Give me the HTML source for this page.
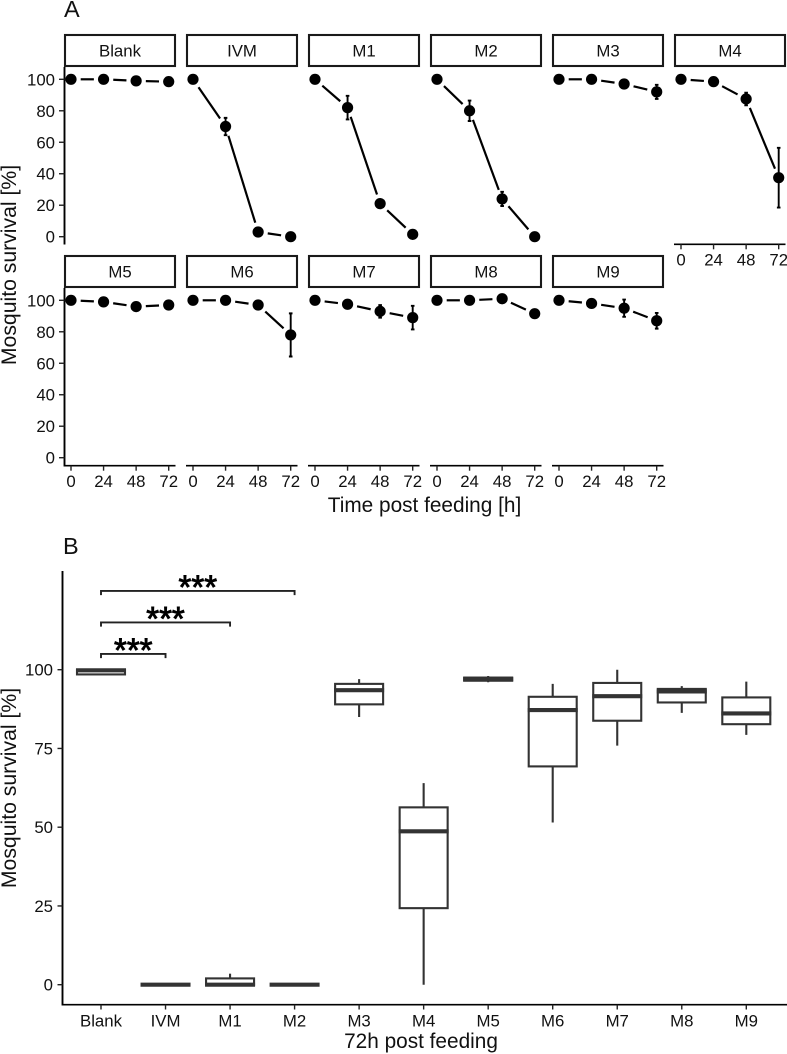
<!DOCTYPE html>
<html lang="en">
<head>
<meta charset="utf-8">
<title>Mosquito survival</title>
<style>
html,body{margin:0;padding:0;background:#fff;}
svg{display:block;font-family:"Liberation Sans",Arial,sans-serif;}
</style>
</head>
<body>
<svg id="chart" width="787" height="1054" viewBox="0 0 787 1054" xmlns="http://www.w3.org/2000/svg">
<rect width="787" height="1054" fill="#fff"/>
<text x="64" y="17" font-size="23.5" fill="#111">A</text>
<text x="63" y="554" font-size="23.5" fill="#111">B</text>
<text transform="translate(16,265) rotate(-90)" text-anchor="middle" font-size="21.2" fill="#111">Mosquito survival [%]</text>
<text x="424.5" y="512" text-anchor="middle" font-size="20.8" fill="#111">Time post feeding [h]</text>
<text transform="translate(16,788) rotate(-90)" text-anchor="middle" font-size="21.2" fill="#111">Mosquito survival [%]</text>
<text x="421" y="1048" text-anchor="middle" font-size="20.8" fill="#111">72h post feeding</text>
<g id="panel-a"></g>
<g id="panel-b"></g>
</svg>
<script>
// Panel A data
const facetNames = ["Blank","IVM","M1","M2","M3","M4","M5","M6","M7","M8","M9"];
const timePoints = [0,24,48,72];
const timeTickLabels = ["0","24","48","72"];
const survivalTicks = [0,20,40,60,80,100];
const survivalBlank = [100,100,99,98.5];
const survivalIVM = [100,70,3,0];
const survivalM1 = [100,82,21,1.5];
const survivalM2 = [100,80,24,0];
const survivalM3 = [100,100,97,92];
const survivalM4 = [100,98.5,87.5,37.5];
const survivalM5 = [100,99,96,97];
const survivalM6 = [100,100,97,78];
const survivalM7 = [100,97.5,93,89];
const survivalM8 = [100,100,101,91.5];
const survivalM9 = [100,98,95,87];
const errorBlank = [0,0.5,1,1];
const errorIVM = [0,5.5,0.5,0];
const errorM1 = [0,7.5,1,1];
const errorM2 = [0,6.5,4.5,0];
const errorM3 = [0,0.5,2.5,4.5];
const errorM4 = [0,0.5,4,19];
const errorM5 = [0,0.5,1,1];
const errorM6 = [0,0.5,1,13.7];
const errorM7 = [0,0.5,4,7.5];
const errorM8 = [0,0.5,1,1];
const errorM9 = [0,0.5,5.5,5];
const facetSurvival = [survivalBlank,survivalIVM,survivalM1,survivalM2,survivalM3,survivalM4,survivalM5,survivalM6,survivalM7,survivalM8,survivalM9];
const facetErrors = [errorBlank,errorIVM,errorM1,errorM2,errorM3,errorM4,errorM5,errorM6,errorM7,errorM8,errorM9];

// Panel B data
const boxGroups = ["Blank","IVM","M1","M2","M3","M4","M5","M6","M7","M8","M9"];
const boxTicks = [0,25,50,75,100];
const boxWhiskerLow = [98.5,0,0,0,85,0,96,51.5,75.9,86.3,79.3];
const boxQ1 = [98.5,0,0,0,89,24.3,96.5,69.3,83.8,89.6,82.7];
const boxMedian = [99.8,0,0,0,93.5,48.7,97,87.2,91.6,93.1,86.1];
const boxQ3 = [100,0,2,0,95.5,56.3,97.5,91.4,95.8,93.9,91.2];
const boxWhiskerHigh = [100,0,3.5,0,97,64,98,95.5,100,94.8,96.2];
const bracketStartGroup = ["Blank","Blank","Blank"];
const bracketEndGroup = ["IVM","M1","M2"];
const bracketValue = [105,115,125];
const bracketLabels = ["***","***","***"];

const NS = "http://www.w3.org/2000/svg";
const panelA = document.getElementById("panel-a");
const panelB = document.getElementById("panel-b");

function node(parent, tag, attrs, text){
  const el = document.createElementNS(NS, tag);
  for (const k in attrs) el.setAttribute(k, attrs[k]);
  if (text !== undefined) el.textContent = text;
  parent.appendChild(el);
  return el;
}

// Panel A layout
function facetLeft(i){ const col = i < 6 ? i : i - 6; return 64.5 + col * 122; }
function facetRow(i){ return i < 6 ? 0 : 1; }
function timeX(t, i){ return facetLeft(i) + 6.5 + (t / 72) * 97.7; }
function survivalY(v, row){
  const y100 = row === 0 ? 79.3 : 300.3;
  return y100 + (100 - v) * 1.574;
}

facetNames.forEach(function(name, i){
  const row = facetRow(i);
  const left = facetLeft(i);
  const stripTop = row === 0 ? 35 : 256;
  const g = node(panelA, "g", {});
  
  

  const strip = node(g, "rect", {x:left+0.5, y:stripTop, width:110, height:31, fill:"#fff", stroke:"#1a1a1a", "stroke-width":2.1});
  
  
  const stripLabel = node(g, "text", {x:left+55.5, y:stripTop+21.6, "text-anchor":"middle", "font-size":16.8, fill:"#111"}, name);
  
  

  // y axis on first column
  if (i === 0 || i === 6) {
    const top = row === 0 ? 67 : 288;
    const bottom = row === 0 ? 244.5 : 466.5;
    const yAxis = node(g, "line", {x1:left, x2:left, y1:top, y2:bottom, stroke:"#000", "stroke-width":1.9});
    
    
    survivalTicks.forEach(function(t){
      const y = survivalY(t, row);
      const tick = node(g, "line", {x1:left-5.5, x2:left, y1:y, y2:y, stroke:"#222", "stroke-width":1.4});
      
      
      const lab = node(g, "text", {x:left-9.5, y:y+6, "text-anchor":"end", "font-size":16.8, fill:"#111"}, String(t));
      
      
    });
  }

  // x axis on bottom row and on M4
  if (row === 1 || name === "M4") {
    const axisY = row === 1 ? 465.7 : 244.3;
    const xAxis = node(g, "line", {x1:left-0.5, x2:left+111, y1:axisY, y2:axisY, stroke:"#000", "stroke-width":1.6});
    
    
    timePoints.forEach(function(t, k){
      const x = timeX(t, i);
      const tick = node(g, "line", {x1:x, x2:x, y1:axisY, y2:axisY+5, stroke:"#222", "stroke-width":1.4});
      
      
      const lab = node(g, "text", {x:x, y:axisY+21.3, "text-anchor":"middle", "font-size":16.8, fill:"#111"}, timeTickLabels[k]);
      
      
    });
  }

  const values = facetSurvival[i];
  const errors = facetErrors[i];
  const gap = 9.7;

  // connecting segments with a gap around points
  for (let k = 0; k < values.length - 1; k++) {
    const x0 = timeX(timePoints[k], i), y0 = survivalY(values[k], row);
    const x1 = timeX(timePoints[k+1], i), y1 = survivalY(values[k+1], row);
    const len = Math.hypot(x1 - x0, y1 - y0);
    const ux = (x1 - x0) / len, uy = (y1 - y0) / len;
    const seg = node(g, "line", {x1:x0+ux*gap, y1:y0+uy*gap, x2:x1-ux*gap, y2:y1-uy*gap, stroke:"#000", "stroke-width":2.2});
    
    
  }

  values.forEach(function(v, k){
    const x = timeX(timePoints[k], i);
    const err = errors[k];
    if (err > 0) {
      const yHi = survivalY(v + err, row), yLo = survivalY(v - err, row);
      const bar = node(g, "path", {d:"M"+(x-1.8)+" "+yHi+"H"+(x+1.8)+"M"+x+" "+yHi+"V"+yLo+"M"+(x-1.8)+" "+yLo+"H"+(x+1.8), fill:"none", stroke:"#000", "stroke-width":1.9});
      
      
    }
    const pt = node(g, "circle", {cx:x, cy:survivalY(v, row), r:5.6, fill:"#000"});
    
    
  });
});

// Panel B layout
function groupX(i){ return 101 + i * 64.53; }
function boxY(v){ return 984.7 - v * 3.15; }

const bAxisY = node(panelB, "line", {x1:62.5, x2:62.5, y1:571, y2:1005.5, stroke:"#000", "stroke-width":1.9});


const bAxisX = node(panelB, "line", {x1:62, x2:787, y1:1004.7, y2:1004.7, stroke:"#000", "stroke-width":1.6});



boxTicks.forEach(function(t){
  const y = boxY(t);
  const tick = node(panelB, "line", {x1:57.5, x2:62.5, y1:y, y2:y, stroke:"#222", "stroke-width":1.4});
  
  
  const lab = node(panelB, "text", {x:53, y:y+6, "text-anchor":"end", "font-size":16.8, fill:"#111"}, String(t));
  
  
});

boxGroups.forEach(function(name, i){
  const x = groupX(i);
  const hw = 24;
  const tick = node(panelB, "line", {x1:x, x2:x, y1:1004.7, y2:1009.5, stroke:"#222", "stroke-width":1.4});
  
  
  const lab = node(panelB, "text", {x:x, y:1026.5, "text-anchor":"middle", "font-size":16.8, fill:"#111"}, name);
  
  

  const g = node(panelB, "g", {});
  
  
  const whiskers = node(g, "path", {d:"M"+x+" "+boxY(boxQ3[i])+"V"+boxY(boxWhiskerHigh[i])+"M"+x+" "+boxY(boxQ1[i])+"V"+boxY(boxWhiskerLow[i]), fill:"none", stroke:"#333", "stroke-width":2.1});
  
  
  const rect = node(g, "rect", {x:x-hw, y:boxY(boxQ3[i]), width:hw*2, height:boxY(boxQ1[i])-boxY(boxQ3[i]), fill:"#fff", stroke:"#333", "stroke-width":2.1});
  
  
  const med = node(g, "line", {x1:x-hw-1, x2:x+hw+1, y1:boxY(boxMedian[i]), y2:boxY(boxMedian[i]), stroke:"#333", "stroke-width":4.1});
  
  
});

bracketStartGroup.forEach(function(startName, i){
  const x0 = groupX(boxGroups.indexOf(startName));
  const x1 = groupX(boxGroups.indexOf(bracketEndGroup[i]));
  const y = boxY(bracketValue[i]);
  const g = node(panelB, "g", {});
  
  
  const path = node(g, "path", {d:"M"+x0+" "+(y+4.2)+"V"+y+"H"+x1+"V"+(y+4.2), fill:"none", stroke:"#222", "stroke-width":1.9});
  
  
  const lab = node(g, "text", {x:(x0+x1)/2, y:y+7.5, "text-anchor":"middle", "font-size":33, fill:"#000", stroke:"#000", "stroke-width":0.9}, bracketLabels[i]);
  
  
});
</script>
</body>
</html>
